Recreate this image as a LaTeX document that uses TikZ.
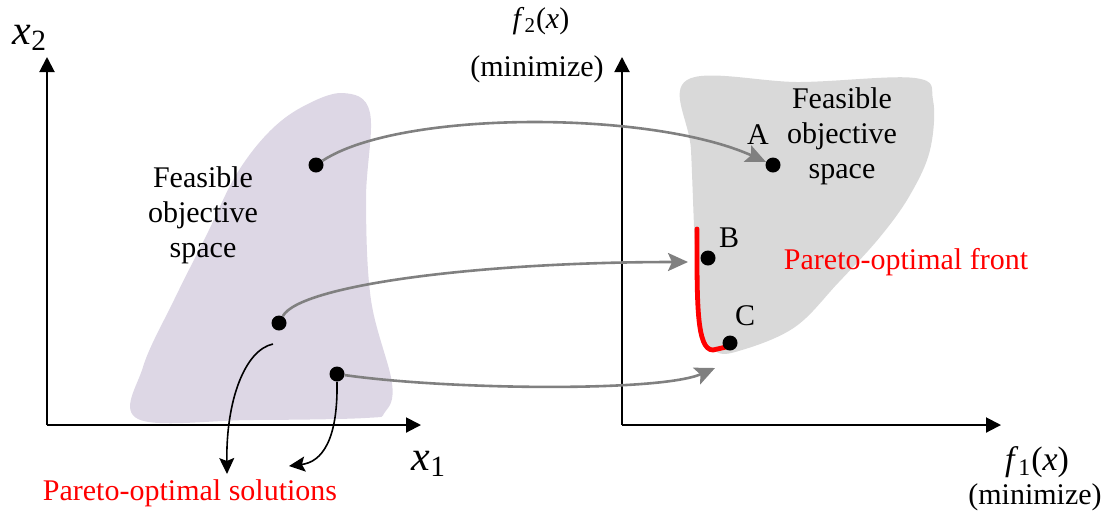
\documentclass[tikz,border=0pt]{standalone}
\usepackage{amsmath}
\usepackage{fontspec}
\setmainfont{Liberation Serif}
\usepackage{xcolor}
\usetikzlibrary{arrows.meta, positioning, calc}
\definecolor{blobpurple}{RGB}{221, 215, 229}
\definecolor{blobgray}{RGB}{217, 217, 217}
\definecolor{mapgray}{RGB}{128, 128, 128}
\definecolor{frontred}{RGB}{255, 0, 0}

\begin{document}
\begin{tikzpicture}[x=0.5pt, y=-0.5pt, font=\fontsize{15}{17.5}\selectfont,
    pt/.style={circle, fill=black, inner sep=0pt, minimum size=7.5pt},
    axis/.style={line width=1pt, -{Triangle[length=7.5pt, width=7.5pt]}},
    map/.style={mapgray, line width=1.3pt, -{Stealth[length=10pt, width=9pt, inset=2pt]}},
    pick/.style={line width=0.8pt, -{Stealth[length=8pt, width=7.5pt, inset=1.5pt]}},
    txt/.style={align=center, inner sep=0pt}]
    \useasboundingbox (0,0) rectangle (1106,516);

    % feasible regions
    \fill[blobpurple] plot[smooth cycle, tension=0.6] coordinates {
        (343,93) (370,113) (366,200) (371,300) (392,383) (385,412) (365,418)
        (250,420) (138,419) (143,367) (174,300) (208,232) (236,175) (268,133) (302,107)};
    \fill[blobgray] plot[smooth cycle, tension=0.6] coordinates {
        (687,80) (800,82) (915,78) (933,100) (930,150) (910,195) (880,237)
        (838,283) (795,327) (742,350) (715,351) (699,320) (695,250) (691,150)};

    % decision space
    \coordinate (o1) at (47,425);
    \coordinate (x1end) at (421,425);
    \coordinate (x2end) at (47,57);
    \draw[axis] (o1) -- (x1end);
    \draw[axis] (o1) -- (x2end);
    \node[font=\fontsize{21}{24}\selectfont] (x2lbl) at (30,38) {\textit{x}$_{\text{2}}$};
    \node[font=\fontsize{21}{24}\selectfont] (x1lbl) at (429,464) {\textit{x}$_{\text{1}}$};
    \node[txt] (feasL) at (203,215) {Feasible\\objective\\space};

    \node[pt] (p1) at (316,165) {};
    \node[pt] (p2) at (279,323) {};
    \node[pt] (p3) at (337,374) {};

    % objective space
    \coordinate (o2) at (622,425);
    \coordinate (f1end) at (1001,425);
    \coordinate (f2end) at (622,57);
    \draw[axis] (o2) -- (f1end);
    \draw[axis] (o2) -- (f2end);
    \node (f2lbl) at (541,21) {\textit{f}$_{\text{2}}$(\textit{x})};
    \node (minTop) at (537,69) {(minimize)};
    \node[font=\fontsize{17}{20}\selectfont] (f1lbl) at (1037,462) {\textit{f}$_{\text{1}}$(\textit{x})};
    \node (minBot) at (1035,497) {(minimize)};
    \node[txt] (feasR) at (842,136) {Feasible\\objective\\space};

    % Pareto front
    \draw[frontred, line width=2.4pt, line cap=round] (697,229) .. controls (697,300) and (696,350) .. (713,350) -- (726,347);
    \node[frontred] (frontlbl) at (906,262) {Pareto-optimal front};

    \node[pt] (pA) at (773,165) {};
    \node[pt] (pB) at (708,258) {};
    \node[pt] (pC) at (730,343) {};
    \node (lA) at (758,135) {A};
    \node (lB) at (729,238) {B};
    \node (lC) at (745,316) {C};

    % mapping
    \coordinate (tipB) at (688,262);
    \coordinate (tipC) at (715,368);
    \draw[map] (p1) .. controls (400,110) and (650,110) .. (pA);
    \draw[map] (p2) .. controls (300,285) and (480,262) .. (tipB);
    \draw[map] (p3) .. controls (450,390) and (660,392) .. (tipC);

    % Pareto solutions
    \node[frontred] (sollbl) at (190,493) {Pareto-optimal solutions};
    \coordinate (s2start) at (273,344);
    \coordinate (s2tip) at (227,474);
    \coordinate (s3tip) at (289,466);
    \draw[pick] (s2start) .. controls (245,350) and (226,400) .. (s2tip);
    \draw[pick] (p3.south) .. controls (338,440) and (322,462) .. (s3tip);
\end{tikzpicture}
\end{document}
